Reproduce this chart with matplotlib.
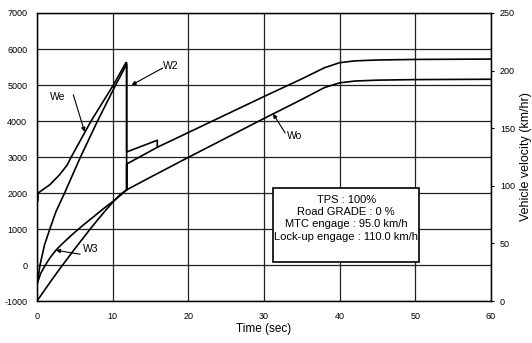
import matplotlib.pyplot as plt
from matplotlib.patches import Rectangle

plt.rcParams['font.family'] = ['Liberation Sans', 'DejaVu Sans']

# engine speed We (rpm), up to the shift and the lock-up step
t_we = [0.12, 0.15, 1.7, 3.0, 4.0, 4.5, 7.15, 10.1, 11.75, 11.85, 11.85, 15.9, 15.9]
we = [1780, 2000, 2230, 2510, 2780, 2990, 4000, 5000, 5620, 5620, 3140, 3465, 3270]

# W2 (rpm)
t_w2 = [0.05, 0.4, 1.0, 1.7, 2.5, 3.65, 5.75, 8.0, 10.4, 11.8, 11.85, 11.85, 11.85,
        15.9, 20, 25, 30, 35, 38, 40, 42, 45, 50, 60]
w2 = [-500, 0, 560, 1000, 1480, 2000, 3000, 4000, 5000, 5560, 5560, 2088, 2805,
      3270, 3680, 4180, 4680, 5170, 5480, 5620, 5670, 5695, 5710, 5720]

# W3 (rpm)
t_w3 = [0.05, 0.5, 1.0, 1.5, 2.0, 2.5, 3, 4, 5, 6, 7, 8, 9, 10, 11, 11.85]
w3 = [-500, -230, -40, 130, 280, 410, 520, 720, 910, 1090, 1260, 1430, 1600, 1760, 1930, 2088]

# output speed Wo (rpm)
t_wo = [0, 1, 2, 3, 4, 5, 6, 7, 8, 9, 10, 11, 11.85, 15, 20, 25, 30, 35, 38, 40, 42, 45, 50, 60]
wo = [-1000, -700, -400, -110, 170, 450, 720, 990, 1250, 1500, 1740, 1960, 2088,
      2440, 2990, 3530, 4070, 4600, 4930, 5060, 5110, 5135, 5150, 5160]

x_ticks = [0, 10, 20, 30, 40, 50, 60]
y_ticks = [-1000, 0, 1000, 2000, 3000, 4000, 5000, 6000, 7000]
v_ticks = [0, 50, 100, 150, 200, 250]

info = ["TPS : 100%", "Road GRADE : 0 %", "MTC engage : 95.0 km/h",
        "Lock-up engage : 110.0 km/h"]

fig = plt.figure(figsize=(5.32, 3.43), dpi=100)
ax = fig.add_axes([0.0695, 0.1224, 0.8534, 0.8397])

for tt, yy in [(t_we, we), (t_w2, w2), (t_w3, w3), (t_wo, wo)]:
    ax.plot(tt, yy, color='black', lw=1.2, zorder=4)

ax.set_xlim(0, 60)
ax.set_ylim(-1000, 7000)
ax.set_xticks(x_ticks)
ax.set_xticklabels([str(v) for v in x_ticks])
ax.set_yticks(y_ticks)
ax.set_yticklabels([str(v) for v in y_ticks])
ax.grid(True, color='#222222', lw=0.9)
ax.tick_params(length=0, labelsize=6.5)
ax.tick_params(axis='y', pad=7)
ax.tick_params(axis='x', pad=8)
for s in ax.spines.values():
    s.set_linewidth(1.0)

ax.set_xlabel('Time (sec)', fontsize=8.5)
ax.xaxis.set_label_coords(0.5, -0.075)

ax2 = ax.twinx()
ax2.set_ylim(0, 250)
ax2.set_yticks(v_ticks)
ax2.set_yticklabels([str(v) for v in v_ticks])
ax2.tick_params(direction='out', length=2.5, pad=4, labelsize=6.5)
ax2.set_ylabel('Vehicle velocity (km/hr)', fontsize=9, va='center')
ax2.yaxis.set_label_coords(1.077, 0.5)

arrow = dict(arrowstyle='-|>', color='black', lw=0.8, mutation_scale=6,
             shrinkA=0, shrinkB=0)

ax.text(2.8, 4680, 'We', fontsize=7.5, ha='center', va='center')
ax.annotate('', xy=(6.3, 3700), xytext=(4.8, 4730), arrowprops=arrow)

ax.text(16.6, 5520, 'W2', fontsize=7.5, ha='left', va='center')
ax.annotate('', xy=(12.5, 5000), xytext=(16.6, 5470), arrowprops=arrow)

ax.text(6.1, 440, 'W3', fontsize=7.5, ha='left', va='center')
ax.annotate('', xy=(2.5, 410), xytext=(5.7, 300), arrowprops=arrow)

ax.text(34.1, 3575, 'Wo', fontsize=7.5, ha='center', va='center')
ax.annotate('', xy=(31.2, 4200), xytext=(32.8, 3670), arrowprops=arrow)

ax.add_patch(Rectangle((31.2, 70), 19.3, 2080, facecolor='white',
                       edgecolor='black', lw=1.2, zorder=5))
ax.text(40.85, 1298, "\n".join(info), fontsize=8, ha='center', va='center',
        multialignment='center', linespacing=1.3, zorder=6)

fig.savefig('out.png', dpi=100)
